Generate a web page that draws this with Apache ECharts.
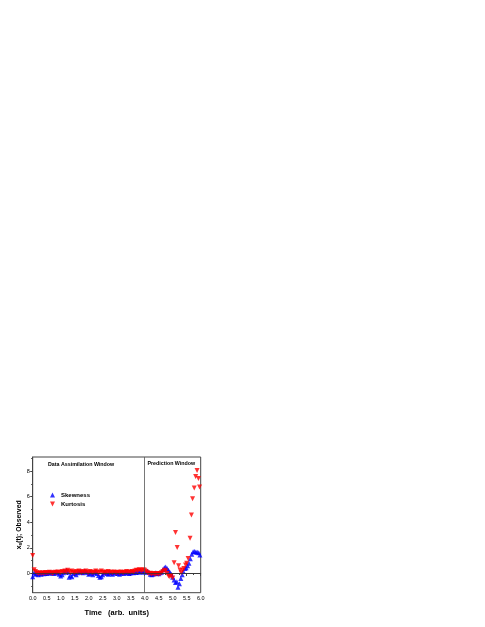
<!DOCTYPE html>
<html>
<head>
<meta charset="utf-8">
<script src="https://cdn.jsdelivr.net/npm/echarts@6/dist/echarts.min.js"></script>
<style>
html,body{margin:0;padding:0;background:#fff;}
#c{width:485px;height:627px;}
</style>
</head>
<body>
<div id="c"></div>
<script>
// Time grid for the assimilation window (0 .. 5.0)
const gridTimes = [0.00,0.05,0.10,0.15,0.20,0.25,0.30,0.35,0.40,0.45,0.50,0.55,0.60,0.65,0.70,0.75,0.80,0.85,0.90,0.95,
1.00,1.05,1.10,1.15,1.20,1.25,1.30,1.35,1.40,1.45,1.50,1.55,1.60,1.65,1.70,1.75,1.80,1.85,1.90,1.95,
2.00,2.05,2.10,2.15,2.20,2.25,2.30,2.35,2.40,2.45,2.50,2.55,2.60,2.65,2.70,2.75,2.80,2.85,2.90,2.95,
3.00,3.05,3.10,3.15,3.20,3.25,3.30,3.35,3.40,3.45,3.50,3.55,3.60,3.65,3.70,3.75,3.80,3.85,3.90,3.95,
4.00,4.05,4.10,4.15,4.20,4.25,4.30,4.35,4.40,4.45,4.50,4.55,4.60,4.65,4.70,4.75,4.80,4.85,4.90,4.95,5.00];

const skewGrid = [-0.25,0.05,-0.05,0.00,-0.10,0.02,-0.05,0.03,-0.02,0.05,0.00,0.08,0.02,0.10,0.05,0.00,0.06,0.10,0.03,-0.05,
-0.20,-0.10,0.05,0.15,0.25,0.10,-0.30,-0.15,-0.25,0.00,0.10,-0.10,0.05,0.12,0.18,0.10,0.05,0.20,0.15,0.08,
-0.05,0.10,0.00,-0.10,0.05,0.12,0.00,-0.15,-0.30,-0.25,-0.10,0.05,0.10,0.00,-0.05,0.08,0.02,-0.05,0.05,0.10,
0.00,0.05,-0.05,0.02,0.08,0.00,0.05,0.10,0.03,0.00,0.06,0.10,0.05,0.12,0.08,0.15,0.10,0.20,0.15,0.10,
0.20,0.10,0.20,0.10,-0.05,-0.10,-0.05,0.00,0.05,0.00,-0.02,0.05,0.10,0.30,0.45,0.50,0.40,0.25,0.10,-0.05,-0.30];

const kurtGrid = [1.40,0.30,0.15,0.05,0.00,0.05,0.00,0.05,0.00,0.08,0.03,0.05,0.10,0.05,0.00,0.06,0.10,0.05,0.12,0.08,
0.05,0.15,0.10,0.20,0.10,0.25,0.15,0.05,0.20,0.10,0.05,0.15,0.10,0.20,0.12,0.05,0.15,0.10,0.20,0.10,
0.05,0.15,0.10,0.05,0.10,0.20,0.12,0.05,0.10,0.20,0.10,0.05,0.12,0.08,0.15,0.05,0.10,0.05,0.12,0.08,
0.05,0.10,0.05,0.12,0.08,0.05,0.10,0.15,0.08,0.12,0.10,0.15,0.10,0.20,0.25,0.20,0.30,0.25,0.20,0.30,
0.25,0.15,0.05,0.00,0.02,-0.05,0.00,-0.03,-0.05,0.00,-0.05,0.00,0.05,0.15,0.25,0.20,0.00,-0.20,-0.25,-0.15,-0.35];

// Prediction window tail, read as [time, value]
const skewTail = [[5.05,-0.50],[5.10,-0.70],[5.15,-0.65],[5.19,-1.07],[5.24,-0.80],[5.29,-0.40],[5.34,-0.10],[5.38,0.15],
[5.44,0.40],[5.48,0.45],[5.53,0.60],[5.58,0.80],[5.63,1.15],[5.68,1.50],[5.73,1.70],[5.78,1.72],[5.83,1.68],[5.88,1.65],[5.93,1.62],[5.97,1.45]];
const kurtTail = [[5.05,0.83],[5.10,3.20],[5.16,2.03],[5.21,0.60],[5.26,0.28],[5.30,0.05],[5.35,0.25],[5.40,0.40],
[5.46,0.66],[5.50,0.80],[5.55,1.17],[5.62,2.75],[5.67,4.56],[5.71,5.83],[5.77,6.67],[5.82,7.58],[5.87,8.05],[5.92,7.43],[5.96,6.75]];

const xTickStep = 0.5;
const yMajorTicks = [0,2,4,6,8];
const yMinorTicks = [-1,1,3,5,7,9];
const windowBoundary = 4.0;
const zeroLevel = 0;

const skewness = gridTimes.map((t,i)=>[t, skewGrid[i]]).concat(skewTail);
const kurtosis = gridTimes.map((t,i)=>[t, kurtGrid[i]]).concat(kurtTail);

const FONT = '"Liberation Sans", Arial, sans-serif';
const chart = echarts.init(document.getElementById('c'), null, {renderer:'canvas'});
const downTri = 'path://M0,0 L10,0 L5,10 Z';

chart.setOption({
  backgroundColor:'#fff',
  animation:false,
  grid:{left:32.7, right:284.3, top:457, bottom:34.3, show:true, borderColor:'#444', borderWidth:1, backgroundColor:'transparent'},
  legend:{
    orient:'vertical', left:45, top:487, itemWidth:5, itemHeight:5, itemGap:3,
    textStyle:{fontFamily:FONT, fontSize:6, fontWeight:'bold', color:'#000', padding:[0,0,0,1]},
    data:[{name:'Skewness', icon:'triangle'},{name:'Kurtosis', icon:downTri}]
  },
  xAxis:{
    type:'value', min:0, max:6, interval:xTickStep,
    name:'Time   (arb.  units)', nameLocation:'middle', nameGap:16,
    nameTextStyle:{fontFamily:FONT, fontSize:7.5, fontWeight:'bold', color:'#000'},
    axisLine:{show:true, lineStyle:{color:'#444', width:1}},
    axisTick:{show:true, length:2.5, lineStyle:{color:'#444'}},
    minorTick:{show:true, splitNumber:2, length:1.5, lineStyle:{color:'#444'}},
    axisLabel:{fontFamily:FONT, fontSize:5.5, color:'#000', margin:3, formatter:v=>v.toFixed(1)},
    splitLine:{show:false}
  },
  yAxis:[{
    type:'value', min:-1.5, max:9.1,
    name:'{a|x}{b|s}{a|(t); Observed}', nameLocation:'middle', nameGap:10,
    nameTextStyle:{rich:{
      a:{fontFamily:FONT, fontSize:6.8, fontWeight:'bold', color:'#000'},
      b:{fontFamily:FONT, fontSize:5, fontWeight:'bold', color:'#000', verticalAlign:'bottom', padding:[3,0,0,0]}
    }},
    axisLine:{show:true, lineStyle:{color:'#444', width:1}},
    axisTick:{show:true, length:2.5, customValues:yMajorTicks, lineStyle:{color:'#444'}},
    axisLabel:{fontFamily:FONT, fontSize:5.5, color:'#000', margin:3, customValues:yMajorTicks},
    splitLine:{show:false}
  },{
    type:'value', min:-1.5, max:9.1, position:'left',
    axisLine:{show:false},
    axisTick:{show:true, length:1.5, customValues:yMinorTicks, lineStyle:{color:'#444'}},
    axisLabel:{show:false},
    splitLine:{show:false}
  }],
  graphic:[
    {type:'text', left:48, top:462, style:{text:'Data Assimilation Window', font:'bold 5.3px '+FONT, fill:'#000'}},
    {type:'text', left:147.5, top:461.5, style:{text:'Prediction Window', font:'bold 5.3px '+FONT, fill:'#000'}}
  ],
  series:[
    {
      name:'Skewness', type:'scatter', data:skewness, symbol:'triangle', symbolSize:5,
      itemStyle:{color:'#0000ff'},
      markLine:{silent:true, symbol:'none', label:{show:false}, animation:false,
        data:[
          {xAxis:windowBoundary, lineStyle:{color:'#555', width:0.8, type:'solid'}},
          {yAxis:zeroLevel, lineStyle:{color:'#333', width:0.8, type:'solid'}}
        ]}
    },
    {
      name:'Kurtosis', type:'scatter', data:kurtosis, symbol:downTri, symbolSize:5,
      itemStyle:{color:'#ff0000'}
    }
  ]
});
</script>
</body>
</html>
